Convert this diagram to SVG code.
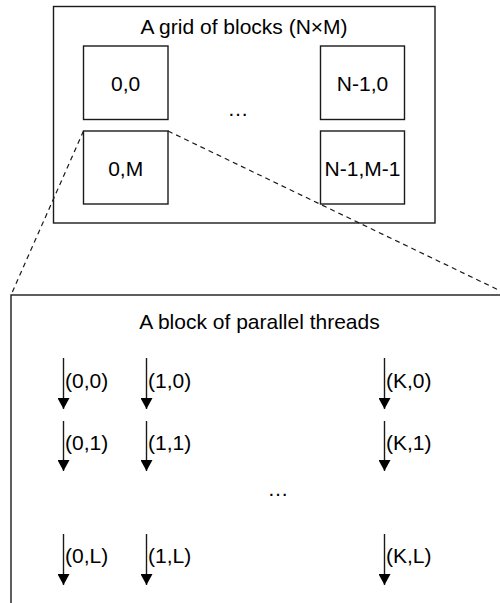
<svg xmlns="http://www.w3.org/2000/svg" width="500" height="603" viewBox="0 0 500 603">
  <style>
    .box { fill: #fff; stroke: #1a1a1a; stroke-width: 1.4; }
    .lbl { font-family: "Liberation Sans", Arial, Helvetica, sans-serif; font-size: 21px; fill: #000; }
    .mid { text-anchor: middle; }
    .zoom { fill: none; stroke: #1a1a1a; stroke-width: 1.2; stroke-dasharray: 5 4; }
    .thread { stroke: #1a1a1a; stroke-width: 1.4; fill: none; marker-end: url(#head); }
  </style>
  <defs>
    <!-- filled triangular arrowhead, tip at the end of the line -->
    <marker id="head" viewBox="0 0 11 12" refX="11" refY="6" markerWidth="11" markerHeight="12" markerUnits="userSpaceOnUse" orient="auto">
      <path d="M0,0 L11,6 L0,12 Z" fill="#000"/>
    </marker>
  </defs>
  <rect width="500" height="603" fill="#fff"/>

  <!-- grid of blocks -->
  <g id="grid">
    <rect class="box" x="53.5" y="6.5" width="381.5" height="216.5"/>
    <text class="lbl mid" x="244" y="34">A grid of blocks (N×M)</text>
    <text class="lbl mid" x="238" y="116">…</text>
  </g>
  <g id="block-0-0">
    <rect class="box" x="83.5" y="46" width="84.5" height="73.5"/>
    <text class="lbl mid" x="125.7" y="90.5">0,0</text>
  </g>
  <g id="block-0-M">
    <rect class="box" x="83.5" y="131" width="84.5" height="73"/>
    <text class="lbl mid" x="125.7" y="175.5">0,M</text>
  </g>
  <g id="block-N-0">
    <rect class="box" x="320.5" y="46" width="84" height="73.5"/>
    <text class="lbl mid" x="362.5" y="90.5">N-1,0</text>
  </g>
  <g id="block-N-M">
    <rect class="box" x="320.5" y="131" width="84" height="73"/>
    <text class="lbl mid" x="362.5" y="175.5">N-1,M-1</text>
  </g>

  <!-- block of threads -->
  <g id="threads">
    <rect class="box" x="11" y="295" width="520" height="330"/>
    <text class="lbl mid" x="259.5" y="328.5">A block of parallel threads</text>
    <text class="lbl mid" x="278" y="496">…</text>
  </g>

  <g id="connectors">
    <line class="zoom" x1="83.5" y1="131" x2="11" y2="295"/>
    <line class="zoom" x1="168" y1="131" x2="511" y2="296"/>

    <line class="thread" x1="63.5" y1="358" x2="63.5" y2="409"/>
    <line class="thread" x1="146.5" y1="358" x2="146.5" y2="409"/>
    <line class="thread" x1="384.5" y1="358" x2="384.5" y2="409"/>
    <line class="thread" x1="63.5" y1="421" x2="63.5" y2="471"/>
    <line class="thread" x1="146.5" y1="421" x2="146.5" y2="471"/>
    <line class="thread" x1="384.5" y1="421" x2="384.5" y2="471"/>
    <line class="thread" x1="63.5" y1="534" x2="63.5" y2="585"/>
    <line class="thread" x1="146.5" y1="534" x2="146.5" y2="585"/>
    <line class="thread" x1="384.5" y1="534" x2="384.5" y2="585"/>
  </g>

  <g id="thread-labels">
    <text class="lbl" x="65" y="388">(0,0)</text>
    <text class="lbl" x="148" y="388">(1,0)</text>
    <text class="lbl" x="386" y="388">(K,0)</text>
    <text class="lbl" x="65" y="450">(0,1)</text>
    <text class="lbl" x="148" y="450">(1,1)</text>
    <text class="lbl" x="386" y="450">(K,1)</text>
    <text class="lbl" x="65" y="563">(0,L)</text>
    <text class="lbl" x="148" y="563">(1,L)</text>
    <text class="lbl" x="386" y="563">(K,L)</text>
  </g>
</svg>
